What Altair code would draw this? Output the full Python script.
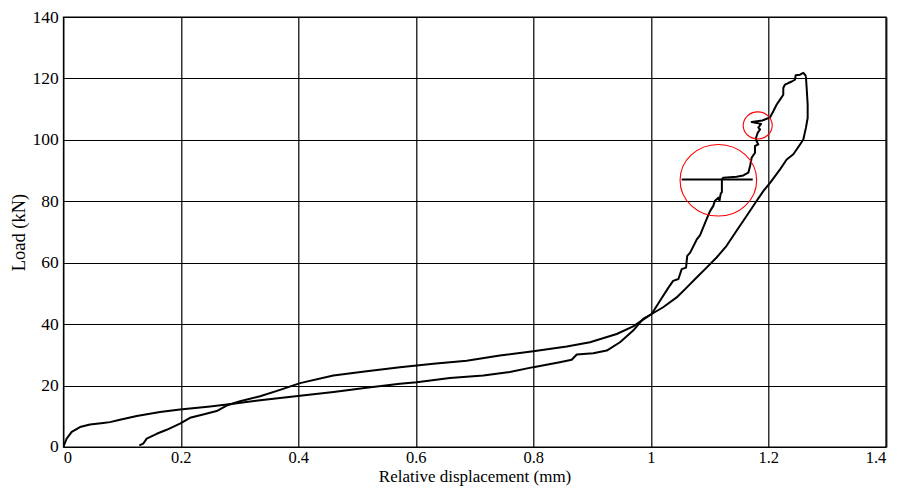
import altair as alt
import pandas as pd

# Loading branch (starts at origin)
load_x = [0.0, 0.0057, 0.0143, 0.0284, 0.0454, 0.068, 0.0795, 0.0965, 0.125, 0.1646,
          0.1986, 0.25, 0.289, 0.335, 0.403, 0.46, 0.516, 0.573, 0.6015, 0.658,
          0.715, 0.76, 0.8, 0.845, 0.8654, 0.874, 0.902, 0.925, 0.9476, 0.97,
          0.987, 1.0015, 1.0157, 1.030, 1.038, 1.047, 1.0526, 1.06, 1.062, 1.067,
          1.078, 1.0837, 1.095, 1.1008, 1.1064, 1.109, 1.115, 1.117, 1.119, 1.121,
          1.121, 1.1234, 1.146, 1.1574, 1.166, 1.169, 1.1717, 1.1774, 1.1774, 1.183,
          1.180, 1.179, 1.182, 1.186, 1.183, 1.1876, 1.1717, 1.19, 1.2029, 1.2085,
          1.2143, 1.22, 1.2255, 1.2255, 1.2284, 1.234, 1.24, 1.2454, 1.2466, 1.254,
          1.2596, 1.2625, 1.264]
load_y = [0.0, 2.7, 4.9, 6.5, 7.3, 7.8, 8.1, 8.9, 10.1, 11.4,
          12.2, 13.2, 14.1, 15.2, 16.7, 17.9, 19.3, 20.6, 21.1, 22.5,
          23.3, 24.4, 26.0, 27.6, 28.4, 30.1, 30.5, 31.4, 34.1, 37.9,
          41.7, 43.3, 47.6, 51.9, 54.1, 54.7, 57.9, 58.4, 62.2, 63.3,
          67.5, 68.9, 74.2, 76.8, 78.5, 80.1, 81.2, 80.2, 82.5, 83.0,
          87.1, 87.7, 88.0, 88.4, 89.3, 91.5, 94.2, 95.8, 98.0, 98.5,
          99.6, 100.6, 102.3, 103.4, 104.0, 105.2, 105.8, 106.3, 107.3, 109.3,
          111.5, 113.1, 114.7, 116.9, 118.0, 118.5, 119.0, 119.6, 121.0, 121.2,
          121.8, 121.2, 120.7]

# Unloading branch (from peak back to residual displacement)
unload_x = [1.264, 1.2653, 1.267, 1.267, 1.264, 1.2596, 1.254, 1.2426, 1.2313, 1.22,
            1.203, 1.1915, 1.18, 1.163, 1.146, 1.129, 1.112, 1.095, 1.078, 1.061,
            1.044, 1.021, 1.0015, 0.985, 0.97, 0.942, 0.8965, 0.857, 0.8, 0.743,
            0.6866, 0.63, 0.573, 0.5164, 0.4596, 0.403, 0.369, 0.335, 0.3008, 0.278,
            0.261, 0.238, 0.2157, 0.1986, 0.176, 0.159, 0.142, 0.136, 0.1294]
unload_y = [120.7, 116.9, 111.5, 107.1, 103.9, 100.1, 98.5, 95.3, 93.6, 90.4,
            86.0, 83.3, 80.1, 75.2, 70.4, 65.5, 61.7, 58.4, 55.2, 51.9,
            48.7, 45.5, 43.3, 41.2, 39.3, 36.8, 34.1, 32.7, 31.2, 29.8,
            28.1, 27.1, 26.0, 24.7, 23.3, 20.8, 18.6, 16.5, 14.9, 13.5,
            11.7, 10.6, 9.5, 7.6, 5.6, 4.3, 2.7, 1.1, 0.55]

# Horizontal load-drop segment
jump_x = [1.0526, 1.1735]
jump_y = [87.1, 87.1]

# Red highlight rings (centre and diameter in px)
ring_x = [1.115, 1.182]
ring_y = [86.85, 104.7]
ring_d = [76.6, 29.0]

x_ticks = [0, 0.2, 0.4, 0.6, 0.8, 1.0, 1.2, 1.4]
y_ticks = [0, 20, 40, 60, 80, 100, 120, 140]

rows = []
for i, (a, b) in enumerate(zip(load_x, load_y)):
    rows.append({"x": a, "y": b, "s": "load", "o": i})
for i, (a, b) in enumerate(zip(unload_x, unload_y)):
    rows.append({"x": a, "y": b, "s": "unload", "o": i})
for i, (a, b) in enumerate(zip(jump_x, jump_y)):
    rows.append({"x": a, "y": b, "s": "jump", "o": i})
curves = pd.DataFrame(rows)

rings = pd.DataFrame({"x": ring_x, "y": ring_y, "size": [d * d for d in ring_d]})

FONT = "Liberation Serif"

xs = alt.Scale(domain=[0, 1.4], nice=False, zero=False)
ys = alt.Scale(domain=[0, 140], nice=False, zero=False)

xax = alt.Axis(values=x_ticks, format="~g", title="Relative displacement (mm)",
               labelPadding=3, labelFontSize=16.5,
               titleFontSize=17, titleBaseline="alphabetic", titleY=35)
yax = alt.Axis(values=y_ticks, format="d", title="Load (kN)",
               labelPadding=5, titlePadding=4)

lines = alt.Chart(curves).mark_line(color="black", strokeWidth=2, strokeJoin="round", clip=True).encode(
    x=alt.X("x:Q", scale=xs, axis=xax),
    y=alt.Y("y:Q", scale=ys, axis=yax),
    detail="s:N",
    order=alt.Order("o:Q"),
)

ellipse = "M-1,0A1,0.935,0,1,1,1,0A1,0.935,0,1,1,-1,0Z"
circ = alt.Chart(rings).mark_point(shape=ellipse, filled=False, color="#ff0000", strokeWidth=1.1, opacity=1).encode(
    x=alt.X("x:Q", scale=xs),
    y=alt.Y("y:Q", scale=ys),
    size=alt.Size("size:Q", scale=None, legend=None),
)

chart = alt.layer(lines, circ).properties(
    width=822.5, height=430,
    background="white",
    autosize=alt.AutoSizeParams(type="none"),
    padding={"left": 55.3, "top": 9, "right": 10, "bottom": 39},
).configure_axis(
    grid=True, gridColor="black", gridOpacity=1, gridWidth=1.2,
    ticks=False, domain=False,
    labelFont=FONT, labelFontSize=17.5, labelColor="black",
    titleFont=FONT, titleFontSize=18.5, titleColor="black", titleFontWeight="normal",
).configure_view(stroke="black", strokeWidth=1.3)

chart.save("out.html", embed_options={"renderer": "svg", "actions": False})
